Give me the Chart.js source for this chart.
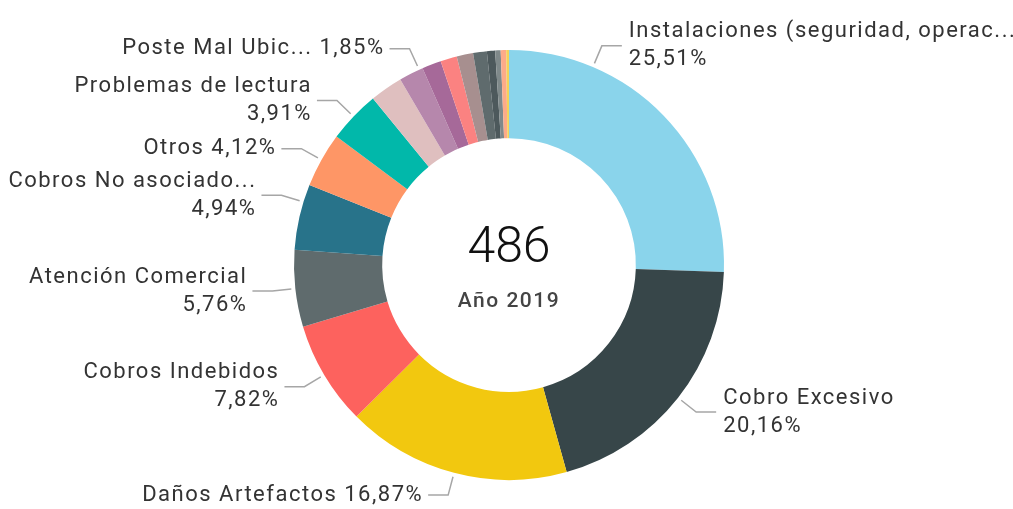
<!DOCTYPE html>
<html>
<head>
<meta charset="utf-8">
<script src="https://cdn.jsdelivr.net/npm/chart.js@4"></script>
<style>
  html, body { margin: 0; padding: 0; background: #fff; }
  #wrap { width: 1013px; height: 509px; position: relative; }
</style>
</head>
<body>
<div id="wrap"><canvas id="donut"></canvas></div>
<script>
/* ================= DATA ================= */
const categories = [
  "Instalaciones (seguridad, operac...",
  "Cobro Excesivo",
  "Daños Artefactos",
  "Cobros Indebidos",
  "Atención Comercial",
  "Cobros No asociado...",
  "Otros",
  "Problemas de lectura",
  "Sin etiqueta 1",
  "Poste Mal Ubic...",
  "Sin etiqueta 2",
  "Sin etiqueta 3",
  "Sin etiqueta 4",
  "Sin etiqueta 5",
  "Sin etiqueta 6",
  "Sin etiqueta 7",
  "Sin etiqueta 8",
  "Sin etiqueta 9"
];
const counts = [124, 98, 82, 38, 28, 24, 20, 19, 12, 9, 7, 6, 6, 5, 3, 2, 2, 1];
const centerTitle = "Año 2019";

const colors = [
  "#8AD4EB", "#374649", "#F2C80F", "#FD625E", "#5F6B6D", "#28738A",
  "#FE9666", "#01B8AA", "#DFBFBF", "#B687AC", "#A66999", "#FB8281",
  "#A78F8F", "#5F6B6D", "#4D595C", "#7F898A", "#FDAB89", "#F4D25A"
];

/* label layout: which slices get a label, where the leader starts, one or two lines */
const labelLayout = {
  0: { at: 0.25, twoLine: true },
  1: { at: 0.5, twoLine: true },
  2: { at: 0.5, twoLine: false },
  3: { at: 0.5, twoLine: true },
  4: { at: 0.5, twoLine: true },
  5: { at: 0.73, twoLine: true },
  6: { at: 0.5, twoLine: false },
  7: { at: 0.5, twoLine: true },
  9: { at: 0.85, twoLine: false }
};

const FONT = "Roboto, 'DejaVu Sans', sans-serif";
const total = counts.reduce((a, b) => a + b, 0);

function pct(v) {
  return (v / total * 100).toFixed(2).replace(".", ",") + "%";
}

/* ================= PLUGINS ================= */
const sliceLabels = {
  id: "sliceLabels",
  afterDraw(chart) {
    const ctx = chart.ctx;
    const meta = chart.getDatasetMeta(0);
    ctx.save();
    meta.data.forEach((arc, i) => {
      const conf = labelLayout[i];
      if (!conf) return;
      const p = arc.getProps(["x", "y", "startAngle", "endAngle", "outerRadius"], true);
      const a = p.startAngle + (p.endAngle - p.startAngle) * conf.at;
      const cos = Math.cos(a), sin = Math.sin(a);
      const r0 = p.outerRadius + 4, r1 = p.outerRadius + 23;
      const x0 = p.x + cos * r0, y0 = p.y + sin * r0;
      const x1 = p.x + cos * r1, y1 = p.y + sin * r1;
      const right = cos >= 0;
      const x2 = x1 + (right ? 20 : -20);

      ctx.strokeStyle = "#a6a6a6";
      ctx.lineWidth = 1.5;
      ctx.beginPath();
      ctx.moveTo(x0, y0);
      ctx.lineTo(x1, y1);
      ctx.lineTo(x2, y1);
      ctx.stroke();

      ctx.fillStyle = "#333";
      ctx.font = "22px " + FONT;
      ctx.letterSpacing = "1.5px";
      ctx.textAlign = right ? "left" : "right";
      ctx.textBaseline = "middle";
      const tx = x2 + (right ? 7 : -5);
      const name = categories[i];
      const value = pct(counts[i]);
      if (conf.twoLine) {
        ctx.fillText(name, tx, y1 - 14);
        ctx.fillText(value, tx, y1 + 14);
      } else {
        ctx.fillText(name + " " + value, tx, y1);
      }
    });
    ctx.restore();
  }
};

const centerText = {
  id: "centerText",
  afterDraw(chart) {
    const ctx = chart.ctx;
    const arc = chart.getDatasetMeta(0).data[0];
    const cx = arc.x, cy = arc.y;
    ctx.save();
    ctx.textAlign = "center";
    ctx.textBaseline = "middle";
    ctx.fillStyle = "#111";
    ctx.font = "300 50px " + FONT;
    ctx.fillText(String(total), cx, cy - 16);
    ctx.fillStyle = "#444";
    ctx.font = "500 21px " + FONT;
    ctx.letterSpacing = "1.5px";
    ctx.fillText(centerTitle, cx, cy + 37);
    ctx.restore();
  }
};

/* ================= CHART ================= */
window.onload = () => {
  new Chart(document.getElementById("donut"), {
    type: "doughnut",
    data: {
      labels: categories,
      datasets: [{
        data: counts,
        backgroundColor: colors,
        borderWidth: 0
      }]
    },
    options: {
      responsive: true,
      maintainAspectRatio: false,
      animation: false,
      cutout: "59%",
      layout: { padding: { top: 50, bottom: 29, left: 5, right: 0 } },
      plugins: {
        legend: { display: false },
        tooltip: { enabled: false }
      }
    },
    plugins: [sliceLabels, centerText]
  });
};
</script>
</body>
</html>
